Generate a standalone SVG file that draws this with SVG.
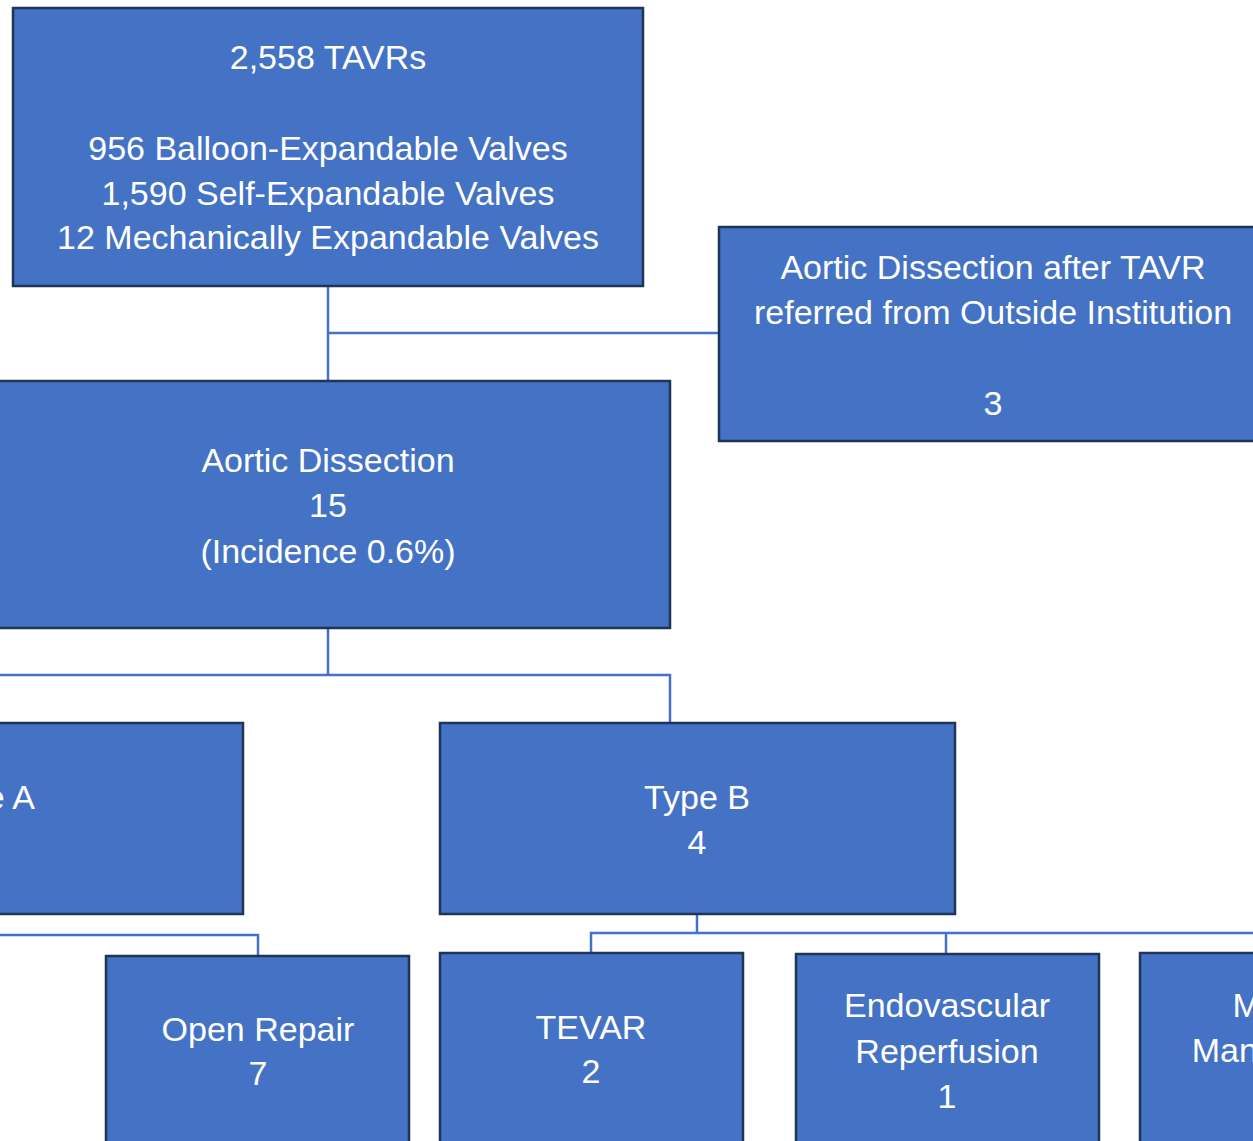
<svg xmlns="http://www.w3.org/2000/svg" width="1253" height="1141" viewBox="0 0 1253 1141">
<style>
.box{fill:#4472c4;stroke:#1f3557;stroke-width:2.5}
.t{fill:#ffffff;font-family:"Liberation Sans",Arial,sans-serif;font-size:34px;text-anchor:middle}
.c{fill:none;stroke:#4472c4;stroke-width:2.5}
</style>
<rect width="1253" height="1141" fill="#ffffff"/>
<g id="connectors">
<path class="c" d="M328,286 V381 M328,333 H718"/>
<path class="c" d="M328,628 V675 M-10,675 H670 V722"/>
<path class="c" d="M-10,935 H258 V955"/>
<path class="c" d="M697,914 V933 M591,952 V933 H1263 M946,933 V953"/>
</g>
<g id="n-tavr">
<rect class="box" x="13" y="8" width="630" height="278"/>
<text class="t" x="328" y="69">2,558 TAVRs</text>
<text class="t" x="328" y="160">956 Balloon-Expandable Valves</text>
<text class="t" x="328" y="205">1,590 Self-Expandable Valves</text>
<text class="t" x="328" y="249">12 Mechanically Expandable Valves</text>
</g>
<g id="n-outside">
<rect class="box" x="719" y="227" width="560" height="214"/>
<text class="t" x="993" y="279">Aortic Dissection after TAVR</text>
<text class="t" x="993" y="324">referred from Outside Institution</text>
<text class="t" x="993" y="415">3</text>
</g>
<g id="n-dissection">
<rect class="box" x="-14" y="381" width="684" height="247"/>
<text class="t" x="328" y="472">Aortic Dissection</text>
<text class="t" x="328" y="517">15</text>
<text class="t" x="328" y="563">(Incidence 0.6%)</text>
</g>
<g id="n-typea">
<rect class="box" x="-290" y="723" width="533" height="191"/>
<text class="t" x="-17" y="809">Type A</text>
<text class="t" x="-17" y="854">11</text>
</g>
<g id="n-typeb">
<rect class="box" x="440" y="723" width="515" height="191"/>
<text class="t" x="697" y="809">Type B</text>
<text class="t" x="697" y="854">4</text>
</g>
<g id="n-open">
<rect class="box" x="106" y="956" width="303" height="200"/>
<text class="t" x="258" y="1041">Open Repair</text>
<text class="t" x="258" y="1085">7</text>
</g>
<g id="n-tevar">
<rect class="box" x="440" y="953" width="303" height="200"/>
<text class="t" x="591" y="1039">TEVAR</text>
<text class="t" x="591" y="1083">2</text>
</g>
<g id="n-endo">
<rect class="box" x="796" y="954" width="303" height="200"/>
<text class="t" x="947" y="1017">Endovascular</text>
<text class="t" x="947" y="1063">Reperfusion</text>
<text class="t" x="947" y="1108">1</text>
</g>
<g id="n-medical">
<rect class="box" x="1140" y="953" width="303" height="200"/>
<text class="t" x="1291" y="1017">Medical</text>
<text class="t" x="1291" y="1062">Management</text>
</g>
</svg>
